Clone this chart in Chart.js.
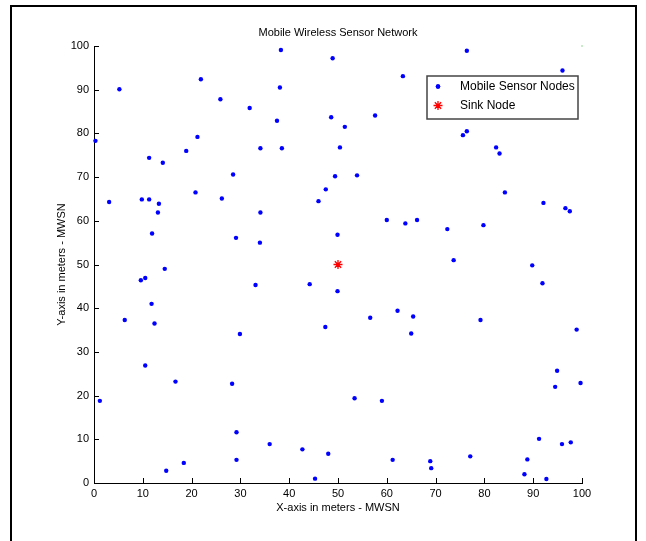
<!DOCTYPE html>
<html>
<head>
<meta charset="utf-8">
<script src="https://cdn.jsdelivr.net/npm/chart.js@4.4.1/dist/chart.umd.min.js"></script>
<style>
  body { margin: 0; background: #fff; }
  canvas { display: block; }
</style>
</head>
<body>
<canvas id="mwsnChart" width="646" height="541"></canvas>
<script>
// sensor node positions (meters)
var nodeX = [5.2, 21.9, 25.9, 31.9, 0.3, 11.3, 14.1, 18.9, 21.2, 28.5,
             38.3, 48.9, 63.3, 38.1, 37.5, 48.6, 57.6, 51.4, 34.1, 38.5,
             50.4, 49.4, 53.9, 47.5, 76.4, 96.0, 76.4, 75.6, 82.4, 83.1,
             3.1, 9.8, 11.3, 13.3, 13.1, 20.8, 26.2, 11.9, 29.1, 34.1,
             34.0, 14.5, 10.5, 9.6, 33.1, 11.8, 6.3, 12.4, 29.9, 46.0,
             60.0, 63.8, 66.2, 49.9, 44.2, 49.9, 62.2, 65.4, 56.6, 47.4,
             65.0, 84.2, 92.1, 96.6, 97.5, 72.4, 79.8, 73.7, 89.8, 91.9,
             79.2, 98.9, 10.5, 16.7, 28.3, 1.2, 29.2, 18.4, 14.8, 29.2,
             36.0, 42.7, 48.0, 45.3, 53.4, 59.0, 61.2, 94.9, 94.5, 99.7,
             91.2, 95.9, 97.7, 68.9, 69.1, 77.1, 88.8, 88.2, 92.7];
var nodeY = [90.1, 92.4, 87.8, 85.8, 78.3, 74.4, 73.3, 76.0, 79.2, 70.6,
             99.1, 97.2, 93.1, 90.5, 82.9, 83.7, 84.1, 81.5, 76.6, 76.6,
             76.8, 70.2, 70.4, 67.2, 98.9, 94.4, 80.5, 79.6, 76.8, 75.4,
             64.3, 64.9, 64.9, 63.9, 61.9, 66.5, 65.1, 57.1, 56.1, 61.9,
             55.0, 49.0, 46.9, 46.4, 45.3, 41.0, 37.3, 36.5, 34.1, 64.5,
             60.2, 59.4, 60.2, 56.8, 45.5, 43.9, 39.4, 38.1, 37.8, 35.7,
             34.2, 66.5, 64.1, 62.9, 62.2, 58.1, 59.0, 51.0, 49.8, 45.7,
             37.3, 35.1, 26.9, 23.2, 22.7, 18.8, 11.6, 4.6, 2.8, 5.3,
             8.9, 7.7, 6.7, 1.0, 19.4, 18.8, 5.3, 25.7, 22.0, 22.9,
             10.1, 8.9, 9.3, 5.0, 3.4, 6.1, 5.4, 2.0, 0.9];
var sinkX = [50];
var sinkY = [50];
// stray green dot in the top right corner of the original
var cornerX = [100];
var cornerY = [100];
var axisTicks = [0, 10, 20, 30, 40, 50, 60, 70, 80, 90, 100];

function toPoints(xs, ys) {
    return xs.map(function(x, i){ return {x: x, y: ys[i]}; });
}

var FONT = "'Liberation Sans', Arial, sans-serif";

var decorPlugin = {
    id: 'decor',
    beforeDraw: function(chart) {
        var ctx = chart.ctx;
        ctx.save();
        ctx.fillStyle = '#fff';
        ctx.fillRect(0, 0, chart.width, chart.height);
        // outer frame
        ctx.strokeStyle = '#000';
        ctx.lineWidth = 2;
        ctx.beginPath();
        ctx.moveTo(11, chart.height + 2);
        ctx.lineTo(11, 6);
        ctx.lineTo(636, 6);
        ctx.lineTo(636, chart.height + 2);
        ctx.stroke();
        ctx.restore();
    },
    afterDraw: function(chart) {
        var ctx = chart.ctx;
        var area = chart.chartArea;
        var xs = chart.scales.x, ys = chart.scales.y;
        ctx.save();

        // inward tick marks
        ctx.strokeStyle = '#000';
        ctx.lineWidth = 1;
        ctx.beginPath();
        axisTicks.forEach(function(v){
            var px = Math.round(xs.getPixelForValue(v)) + 0.5;
            ctx.moveTo(px, area.bottom);
            ctx.lineTo(px, area.bottom - 5);
            var py = Math.round(ys.getPixelForValue(v)) + 0.5;
            ctx.moveTo(area.left, py);
            ctx.lineTo(area.left + 5, py);
        });
        ctx.stroke();

        // title and axis titles
        ctx.fillStyle = '#000';
        ctx.textAlign = 'center';
        ctx.textBaseline = 'middle';
        ctx.font = '11px ' + FONT;
        var cx = (area.left + area.right) / 2;
        ctx.fillText('Mobile Wireless Sensor Network', cx, 33);
        ctx.fillText('X-axis in meters - MWSN', cx, 508);
        ctx.save();
        ctx.translate(62, (area.top + area.bottom) / 2);
        ctx.rotate(-Math.PI / 2);
        ctx.fillText('Y-axis in meters - MWSN', 0, 0);
        ctx.restore();

        // legend box
        var lx = 427, ly = 76, lw = 151, lh = 43;
        ctx.fillStyle = '#fff';
        ctx.fillRect(lx, ly, lw, lh);
        ctx.strokeStyle = '#444';
        ctx.lineWidth = 1.5;
        ctx.strokeRect(lx, ly, lw, lh);
        ctx.font = '12px ' + FONT;
        ctx.textAlign = 'left';
        var ds = chart.data.datasets;
        [0, 1].forEach(function(i, row){
            var yy = ly + 10.5 + row * 19;
            ctx.fillStyle = ds[i].backgroundColor;
            ctx.strokeStyle = ds[i].borderColor;
            ctx.lineWidth = ds[i].borderWidth;
            Chart.helpers.drawPoint(ctx, {
                pointStyle: ds[i].pointStyle,
                radius: ds[i].pointRadius,
                borderWidth: ds[i].borderWidth,
                rotation: 0
            }, 438, yy);
            ctx.fill();
            ctx.fillStyle = '#000';
            ctx.fillText(ds[i].label, 460, yy + 0.5);
        });
        ctx.restore();
    }
};

var ctx = document.getElementById('mwsnChart').getContext('2d');
var myChart = new Chart(ctx, {
    type: 'scatter',
    data: {
        datasets: [{
            label: 'Mobile Sensor Nodes',
            data: toPoints(nodeX, nodeY),
            pointStyle: 'circle',
            pointRadius: 2.2,
            backgroundColor: '#0000ff',
            borderColor: '#0000ff',
            borderWidth: 0
        }, {
            label: 'Sink Node',
            data: toPoints(sinkX, sinkY),
            pointStyle: 'star',
            pointRadius: 4.5,
            backgroundColor: '#ff0000',
            borderColor: '#ff0000',
            borderWidth: 1.3
        }, {
            label: 'corner',
            data: toPoints(cornerX, cornerY),
            pointStyle: 'rect',
            pointRadius: 0.6,
            backgroundColor: '#00a000',
            borderColor: '#00a000',
            borderWidth: 0
        }]
    },
    options: {
        responsive: false,
        animation: false,
        devicePixelRatio: 1,
        clip: false,
        layout: {
            padding: { left: 0, top: 46, right: 64, bottom: 0 }
        },
        plugins: {
            legend: { display: false },
            title: { display: false },
            tooltip: { enabled: false }
        },
        scales: {
            x: {
                type: 'linear',
                min: 0,
                max: 100,
                afterFit: function(scale){ scale.height = 58; },
                afterBuildTicks: function(scale){
                    scale.ticks = axisTicks.map(function(v){ return {value: v}; });
                },
                grid: { display: false, drawTicks: false },
                border: { display: true, color: '#000', width: 1 },
                ticks: {
                    padding: 4,
                    color: '#000',
                    maxRotation: 0,
                    autoSkip: false,
                    font: { family: FONT, size: 11 }
                }
            },
            y: {
                type: 'linear',
                min: 0,
                max: 100,
                afterFit: function(scale){ scale.width = 94; },
                afterBuildTicks: function(scale){
                    scale.ticks = axisTicks.map(function(v){ return {value: v}; });
                },
                grid: { display: false, drawTicks: false },
                border: { display: true, color: '#000', width: 1 },
                ticks: {
                    padding: 5,
                    color: '#000',
                    autoSkip: false,
                    font: { family: FONT, size: 11 }
                }
            }
        }
    },
    plugins: [decorPlugin]
});
</script>
</body>
</html>
